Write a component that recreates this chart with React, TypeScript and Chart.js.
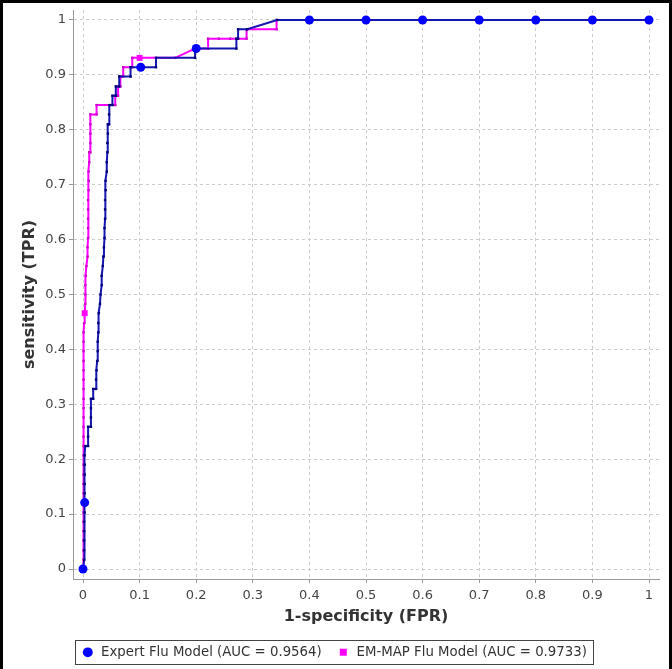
import React, { useEffect, useRef } from 'react';
import { Chart, registerables } from 'chart.js';

Chart.register(...registerables);

const tickValues = [0, 0.1, 0.2, 0.3, 0.4, 0.5, 0.6, 0.7, 0.8, 0.9, 1];
const tickLabels = ['0', '0.1', '0.2', '0.3', '0.4', '0.5', '0.6', '0.7', '0.8', '0.9', '1'];

const seriesNames = ['Expert Flu Model (AUC = 0.9564)', 'EM-MAP Flu Model (AUC = 0.9733)'];

const expertFpr = [
  0, 0.002, 0.002, 0.002, 0.002, 0.002, 0.003, 0.003, 0.003, 0.003, 0.003, 0.003, 0.003, 0.004,
  0.009, 0.009, 0.009, 0.014, 0.014, 0.014, 0.014, 0.018, 0.018, 0.023, 0.023, 0.024, 0.025,
  0.026, 0.026, 0.027, 0.027, 0.028, 0.03, 0.031, 0.033, 0.033, 0.035, 0.036, 0.037, 0.038,
  0.038, 0.039, 0.039, 0.039, 0.04, 0.04, 0.042, 0.042, 0.043, 0.043, 0.044, 0.044, 0.046,
  0.046, 0.047, 0.052, 0.052, 0.058, 0.058, 0.064, 0.064, 0.084, 0.084, 0.129, 0.129, 0.198,
  0.198, 0.271, 0.271, 0.274, 0.274, 0.29, 0.343, 1,
];
const expertTpr = [
  0, 0.017, 0.034, 0.052, 0.069, 0.086, 0.103, 0.121, 0.138, 0.155, 0.172, 0.19, 0.207, 0.224,
  0.224, 0.241, 0.259, 0.259, 0.276, 0.293, 0.31, 0.31, 0.328, 0.328, 0.345, 0.362, 0.379,
  0.397, 0.414, 0.431, 0.448, 0.466, 0.483, 0.5, 0.517, 0.534, 0.552, 0.569, 0.586, 0.603,
  0.621, 0.638, 0.655, 0.672, 0.69, 0.707, 0.724, 0.741, 0.759, 0.776, 0.793, 0.81, 0.81,
  0.828, 0.845, 0.845, 0.862, 0.862, 0.879, 0.879, 0.897, 0.897, 0.914, 0.914, 0.931, 0.931,
  0.948, 0.948, 0.966, 0.966, 0.983, 0.983, 1, 1,
];

const emMapFpr = [
  0, 0.001, 0.001, 0.001, 0.001, 0.001, 0.001, 0.001, 0.001, 0.001, 0.001, 0.001, 0.001, 0.001,
  0.001, 0.001, 0.001, 0.001, 0.001, 0.001, 0.001, 0.001, 0.001, 0.001, 0.001, 0.001, 0.002,
  0.003, 0.004, 0.004, 0.004, 0.005, 0.006, 0.008, 0.008, 0.009, 0.009, 0.009, 0.009, 0.009,
  0.01, 0.01, 0.01, 0.011, 0.011, 0.013, 0.013, 0.013, 0.013, 0.013, 0.024, 0.024, 0.057,
  0.057, 0.062, 0.062, 0.066, 0.066, 0.071, 0.071, 0.087, 0.087, 0.163, 0.198, 0.221, 0.221,
  0.24, 0.26, 0.289, 0.289, 0.342, 0.342, 1,
];
const emMapTpr = [
  0, 0.017, 0.034, 0.052, 0.069, 0.086, 0.103, 0.121, 0.138, 0.155, 0.172, 0.19, 0.207, 0.224,
  0.241, 0.259, 0.276, 0.293, 0.31, 0.328, 0.345, 0.362, 0.379, 0.397, 0.414, 0.431, 0.448,
  0.466, 0.483, 0.5, 0.517, 0.534, 0.552, 0.569, 0.586, 0.603, 0.621, 0.638, 0.655, 0.672,
  0.69, 0.707, 0.724, 0.741, 0.759, 0.759, 0.776, 0.793, 0.81, 0.828, 0.828, 0.845, 0.845,
  0.862, 0.862, 0.879, 0.879, 0.897, 0.897, 0.914, 0.914, 0.931, 0.931, 0.948, 0.948, 0.966,
  0.966, 0.966, 0.966, 0.983, 0.983, 1, 1,
];

const expertMarkerFpr = [0, 0.003, 0.102, 0.2, 0.4, 0.5, 0.6, 0.7, 0.8, 0.9, 1];
const expertMarkerTpr = [0, 0.121, 0.914, 0.948, 1, 1, 1, 1, 1, 1, 1];
const emMapMarkerFpr = [0.003, 0.1];
const emMapMarkerTpr = [0.466, 0.931];

const FONT = "'DejaVu Sans', sans-serif";
const BLUE_LINE = '#1515b0';
const BLUE_DOT = '#0000ff';
const MAGENTA = '#ff00ff';
const LEGEND_SHIFT = 3;

const pts = (xs: number[], ys: number[]) => xs.map((x, i) => ({ x, y: ys[i] }));

export default function App() {
  const ref = useRef<HTMLCanvasElement>(null);

  useEffect(() => {
    const canvas = ref.current;
    if (!canvas) return;

    const legendFrame = {
      id: 'legendFrame',
      afterUpdate(chart: any) {
        const lg = chart.legend;
        if (!lg) return;
        lg.left += LEGEND_SHIFT;
        lg.right += LEGEND_SHIFT;
      },
      afterDraw(chart: any) {
        const hb = chart.legend && chart.legend.legendHitBoxes;
        if (!hb || !hb.length) return;
        const ctx = chart.ctx;
        const left = Math.min(...hb.map((h: any) => h.left)) - 6 + LEGEND_SHIFT;
        const right = Math.max(...hb.map((h: any) => h.left + h.width)) + 6 + LEGEND_SHIFT;
        const cy = hb[0].top + hb[0].height / 2;
        const top = cy - 12;
        const bottom = cy + 12;
        ctx.save();
        ctx.strokeStyle = '#444444';
        ctx.lineWidth = 1;
        ctx.strokeRect(Math.round(left) + 0.5, Math.round(top) + 0.5, Math.round(right - left), Math.round(bottom - top));
        ctx.restore();
      },
    };

    const xMin = -10 / 566;
    const xMax = 1 + 10 / 566;
    const yMin = -10 / 550;
    const yMax = 1 + 10 / 550;

    const axisCommon = (title: string) => ({
      type: 'linear' as const,
      afterBuildTicks: (s: any) => {
        s.ticks = tickValues.map((v) => ({ value: v }));
      },
      ticks: {
        autoSkip: false,
        maxRotation: 0,
        color: '#444444',
        padding: 3,
        font: { family: FONT, size: 13 },
        callback: (v: any) => {
          const i = tickValues.findIndex((t) => Math.abs(t - v) < 1e-9);
          return i >= 0 ? tickLabels[i] : '';
        },
      },
      grid: {
        color: '#cccccc',
        lineWidth: 1,
        tickLength: 4,
        tickColor: '#999999',
      },
      border: { color: '#999999', width: 1, dash: [3, 3] },
      title: {
        display: true,
        text: title,
        color: '#333333',
        font: { family: FONT, size: 16, weight: 'bold' as const },
      },
    });

    const xAxis: any = axisCommon('1-specificity (FPR)');
    xAxis.min = xMin;
    xAxis.max = xMax;
    xAxis.ticks.padding = 5;
    xAxis.afterFit = (s: any) => {
      s.height = 51.7;
      s.paddingLeft = 0;
      s.paddingRight = 0;
    };
    xAxis.title.padding = { top: 4, bottom: 4 };

    const yAxis: any = axisCommon('sensitivity (TPR)');
    yAxis.min = yMin;
    yAxis.max = yMax;
    yAxis.afterFit = (s: any) => {
      s.width = 70;
      s.paddingTop = 0;
      s.paddingBottom = 0;
    };
    yAxis.title.padding = { top: 17, bottom: 4 };

    const chart = new Chart(canvas, {
      type: 'scatter',
      data: {
        datasets: [
          {
            label: seriesNames[0] + ' markers',
            data: pts(expertMarkerFpr, expertMarkerTpr),
            showLine: false,
            pointStyle: 'circle',
            pointRadius: 4.5,
            pointBackgroundColor: BLUE_DOT,
            pointBorderColor: BLUE_DOT,
            pointBorderWidth: 0,
          },
          {
            label: seriesNames[0],
            data: pts(expertFpr, expertTpr),
            showLine: true,
            borderColor: BLUE_LINE,
            borderWidth: 2,
            tension: 0,
            fill: false,
            pointStyle: 'rect',
            pointRadius: 1.7,
            pointBackgroundColor: '#00007a',
            pointBorderWidth: 0,
          },
          {
            label: seriesNames[1] + ' markers',
            data: pts(emMapMarkerFpr, emMapMarkerTpr),
            showLine: false,
            pointStyle: 'rect',
            pointRadius: 4.2,
            pointBackgroundColor: MAGENTA,
            pointBorderColor: MAGENTA,
            pointBorderWidth: 0,
          },
          {
            label: seriesNames[1],
            data: pts(emMapFpr, emMapTpr),
            showLine: true,
            borderColor: MAGENTA,
            borderWidth: 2,
            tension: 0,
            fill: false,
            pointStyle: 'rect',
            pointRadius: 1.7,
            pointBackgroundColor: '#c800c8',
            pointBorderWidth: 0,
          },
        ],
      },
      options: {
        animation: false,
        responsive: false,
        events: [],
        layout: { padding: { top: 7, right: 10, left: 0, bottom: 0 } },
        scales: { x: xAxis, y: yAxis },
        plugins: {
          tooltip: { enabled: false },
          legend: {
            display: true,
            position: 'bottom',
            labels: {
              usePointStyle: true,
              boxWidth: 14.7,
              boxHeight: 7,
              padding: 15,
              color: '#333333',
              font: { family: FONT, size: 13.3 },
              generateLabels: () => [
                {
                  text: seriesNames[0],
                  fillStyle: BLUE_DOT,
                  strokeStyle: BLUE_DOT,
                  lineWidth: 0,
                  pointStyle: 'circle',
                  hidden: false,
                  datasetIndex: 1,
                  fontColor: '#333333',
                },
                {
                  text: seriesNames[1],
                  fillStyle: MAGENTA,
                  strokeStyle: MAGENTA,
                  lineWidth: 0,
                  pointStyle: 'rect',
                  hidden: false,
                  datasetIndex: 3,
                  fontColor: '#333333',
                },
              ],
            },
          },
        },
      },
      plugins: [legendFrame],
    } as any);

    return () => {
      chart.destroy();
    };
  }, []);

  return (
    <div
      style={{
        position: 'absolute',
        left: 0,
        top: 0,
        width: 672,
        height: 669,
        boxSizing: 'border-box',
        borderTop: '3px solid #000',
        borderLeft: '3px solid #000',
        borderRight: '3px solid #000',
        background: '#fff',
      }}
    >
      <canvas ref={ref} width={666} height={666} style={{ display: 'block', width: 666, height: 666 }} />
    </div>
  );
}
